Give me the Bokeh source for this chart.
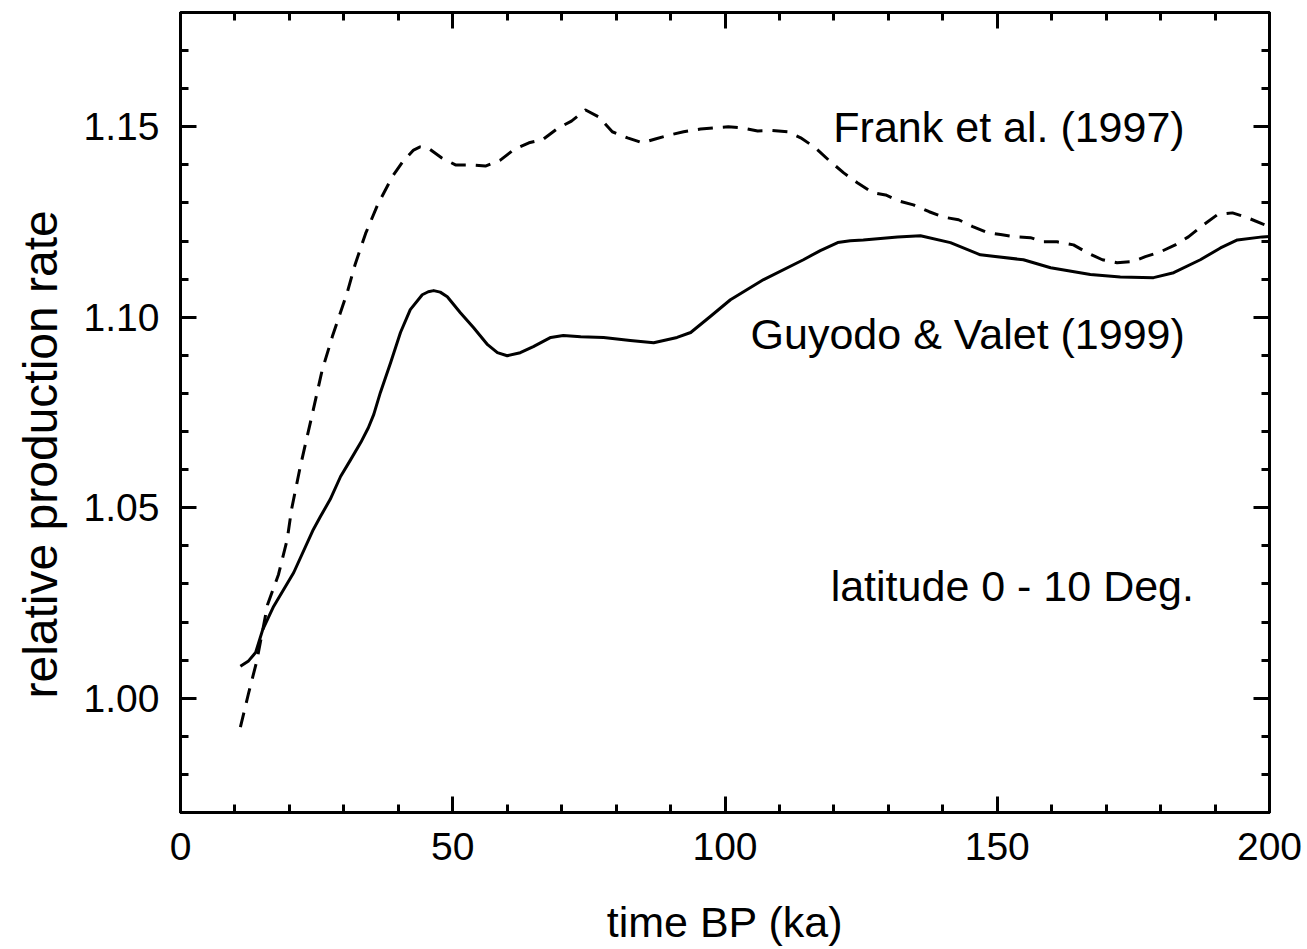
from bokeh.plotting import figure
from bokeh.models import (LinearAxis, SingleIntervalTicker, PrintfTickFormatter, Label, Range1d,
                          Title, CustomJSTickFormatter)
from bokeh.embed import file_html
from bokeh.resources import INLINE

# Guyodo & Valet (1999) - solid
gv_time = [11, 12.5, 13.8, 15.1, 17.1, 20.8, 24.4, 25.7, 27.5, 29.4, 31.2, 33.1, 34.5, 35.5, 36.7,
           38.6, 40.4, 42.2, 44.4, 45.5, 46.5, 47.7, 49, 51.4, 53.8, 56.4, 58.2, 60, 62.4, 64.8,
           68, 70.3, 73.5, 77.7, 82.6, 86.9, 91.2, 93.7, 97.3, 101, 107.1, 114.4, 117.5, 120.7,
           123, 125.4, 131.7, 135.9, 141.4, 146.9, 154.8, 159.8, 167.1, 172.6, 178.7, 182.4,
           187.3, 191, 194.1, 198.7, 200]
gv_rate = [1.0084, 1.0098, 1.012, 1.018, 1.0241, 1.033, 1.0443, 1.0477, 1.0522, 1.0582, 1.0625,
           1.0671, 1.071, 1.0745, 1.0802, 1.0881, 1.096, 1.102, 1.1059, 1.1067, 1.107, 1.1066,
           1.1054, 1.1012, 1.0973, 1.0928, 1.0907, 1.0899, 1.0907, 1.0923, 1.0947, 1.0952,
           1.0949, 1.0947, 1.0939, 1.0933, 1.0947, 1.096, 1.1002, 1.1046, 1.1099, 1.1151, 1.1175,
           1.1196, 1.1201, 1.1203, 1.1211, 1.1214, 1.1196, 1.1164, 1.1151, 1.113, 1.1112, 1.1106,
           1.1104, 1.1117, 1.1151, 1.1182, 1.1203, 1.1211, 1.1212]

# Frank et al. (1997) - dashed
fr_time = [11, 12.5, 14, 16, 18, 19.6, 20.4, 22, 24.4, 26, 27.9, 30.6, 32.1, 34, 36.2, 38.9, 40.8,
           42.8, 44, 45.4, 48, 50.5, 53.3, 56, 58.8, 61.2, 64, 66.5, 69.2, 71.8, 74.4, 76.8, 79.3,
           82.1, 84.8, 87.2, 90, 92.4, 95.5, 97.9, 100.6, 103.2, 106, 108.7, 111.5, 113.9, 116.6,
           119, 121.8, 124.3, 127.1, 129.5, 132, 134.6, 137.5, 140.1, 142.9, 145.5, 148.2, 150.6,
           153.4, 156.1, 158.5, 161, 164, 166.6, 169.3, 172, 174.8, 177.2, 180, 182.7, 185.1,
           187.9, 190.4, 193.2, 196, 198.7, 200]
fr_rate = [0.9924, 1.0013, 1.0097, 1.0246, 1.0325, 1.0417, 1.0496, 1.0608, 1.0758, 1.086, 1.095,
           1.1064, 1.114, 1.122, 1.1295, 1.1369, 1.1408, 1.1439, 1.1447, 1.1445, 1.1418, 1.140,
           1.140, 1.1397, 1.1413, 1.144, 1.1458, 1.1466, 1.1495, 1.1515, 1.1544, 1.1526, 1.1487,
           1.1471, 1.1458, 1.1468, 1.1479, 1.1487, 1.1494, 1.1497, 1.15, 1.1497, 1.1489, 1.149,
           1.1487, 1.1471, 1.1445, 1.1413, 1.1379, 1.1353, 1.1327, 1.1321, 1.1305, 1.1295, 1.1277,
           1.1263, 1.1256, 1.1238, 1.1222, 1.1217, 1.1211, 1.1209, 1.1198, 1.1198, 1.119, 1.1169,
           1.1151, 1.1143, 1.1146, 1.1159, 1.1172, 1.119, 1.1211, 1.1243, 1.1269, 1.1274, 1.1261,
           1.1245, 1.1238]

FONT = "Liberation Sans"

p = figure(width=1307, height=949, x_range=Range1d(0, 200), y_range=Range1d(0.97, 1.18),
           output_backend="svg", toolbar_location=None,
           min_border_left=180, min_border_right=38, min_border_top=12, min_border_bottom=137)
p.xgrid.visible = False
p.ygrid.visible = False
p.outline_line_color = "black"
p.outline_line_width = 3
p.background_fill_color = "white"
p.border_fill_color = "white"

p.line(fr_time, fr_rate, line_color="black", line_width=3, line_dash="15 10", line_join="round")
p.line(gv_time, gv_rate, line_color="black", line_width=3, line_join="round")

xt = SingleIntervalTicker(interval=50, num_minor_ticks=5)
yt = SingleIntervalTicker(interval=0.05, num_minor_ticks=5)


def style(ax, show_labels):
    ax.axis_line_width = 3
    ax.axis_line_color = "black"
    ax.major_tick_in = 16
    ax.major_tick_out = 0
    ax.minor_tick_in = 8
    ax.minor_tick_out = 0
    ax.major_tick_line_width = 3
    ax.minor_tick_line_width = 3
    ax.major_tick_line_color = "black"
    ax.minor_tick_line_color = "black"
    ax.major_label_text_font = FONT
    ax.axis_label_text_font = FONT
    ax.axis_label_text_font_style = "normal"
    ax.axis_label_text_color = "black"
    ax.major_label_text_color = "black"
    if not show_labels:
        ax.formatter = CustomJSTickFormatter(code="return '';")
        ax.major_label_standoff = 0


xa = p.xaxis[0]
xa.ticker = xt
xa.formatter = PrintfTickFormatter(format="%d")
style(xa, True)
xa.major_label_text_font_size = "39px"
xa.major_label_standoff = 20
xa.axis_label = "time BP (ka)"
xa.axis_label_text_font_size = "43px"
xa.axis_label_standoff = 35

ya = p.yaxis[0]
ya.ticker = yt
ya.formatter = PrintfTickFormatter(format="%.2f")
style(ya, True)
ya.major_label_text_font_size = "39px"
ya.major_label_standoff = 21

top = LinearAxis(ticker=SingleIntervalTicker(interval=50, num_minor_ticks=5))
style(top, False)
p.add_layout(top, "above")
right = LinearAxis(ticker=SingleIntervalTicker(interval=0.05, num_minor_ticks=5))
style(right, False)
p.add_layout(right, "right")

# y-axis title (starts a little above the frame bottom in the original)
p.add_layout(Title(text="relative production rate", text_font=FONT, text_font_size="48px",
                   text_font_style="normal", text_color="black", align="left",
                   vertical_align="top", offset=114, standoff=24), "left")

for txt, x, y in [("Frank et al. (1997)", 119.9, 1.1500),
                  ("Guyodo & Valet (1999)", 104.7, 1.0957),
                  ("latitude 0 - 10 Deg.", 119.4, 1.0294)]:
    p.add_layout(Label(x=x, y=y, text=txt, text_font=FONT, text_font_size="43px",
                       text_color="black", text_align="left", text_baseline="alphabetic"))

open("out.html", "w").write(file_html(p, INLINE))
